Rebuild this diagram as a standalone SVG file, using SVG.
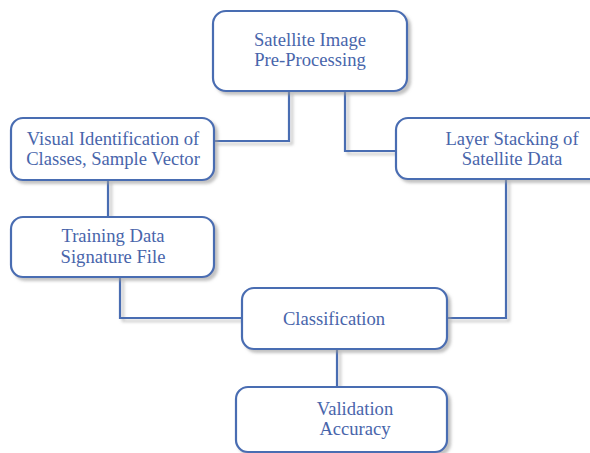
<svg xmlns="http://www.w3.org/2000/svg" width="590" height="453" viewBox="0 0 590 453">
<defs>
<filter id="sh" filterUnits="userSpaceOnUse" x="0" y="0" width="590" height="453">
<feDropShadow dx="3" dy="3" stdDeviation="1.5" flood-color="#9a9a9a" flood-opacity="0.6"/>
</filter>
</defs>
<style>
.box{fill:#fff;stroke:#4a6db2;stroke-width:2.2;filter:url(#sh)}
.ln{fill:none;stroke:#4a6db2;stroke-width:2.2;filter:url(#sh)}
text{font-family:"Liberation Serif","Times New Roman",serif;font-size:18.6px;fill:#4865ab;text-anchor:middle}
</style>
<rect width="590" height="453" fill="#fff"/>
<g id="connectors">
<path class="ln" d="M289 91 V141 H214"/>
<path class="ln" d="M345 91 V151 H396"/>
<path class="ln" d="M108 180 V217"/>
<path class="ln" d="M120 277 V318 H242"/>
<path class="ln" d="M506 179 V318 H447"/>
<path class="ln" d="M337 349 V387"/>
</g>
<g id="preprocessing">
<rect class="box" x="213" y="11" width="194" height="80" rx="13"/>
<text x="310" y="46">Satellite Image</text>
<text x="310" y="66">Pre-Processing</text>
</g>
<g id="visual">
<rect class="box" x="11" y="118" width="203" height="62" rx="12"/>
<text x="113" y="145">Visual Identification of</text>
<text x="113" y="165">Classes, Sample Vector</text>
</g>
<g id="layer">
<rect class="box" x="396" y="118" width="210" height="61" rx="12"/>
<text x="512" y="145">Layer Stacking of</text>
<text x="512" y="165">Satellite Data</text>
</g>
<g id="training">
<rect class="box" x="11" y="217" width="203" height="60" rx="12"/>
<text x="113" y="242">Training Data</text>
<text x="113" y="263">Signature File</text>
</g>
<g id="classification">
<rect class="box" x="242" y="288" width="205" height="61" rx="12"/>
<text x="334" y="325">Classification</text>
</g>
<g id="validation">
<rect class="box" x="236" y="387" width="211" height="65" rx="12"/>
<text x="355" y="415">Validation</text>
<text x="355" y="435">Accuracy</text>
</g>
</svg>
